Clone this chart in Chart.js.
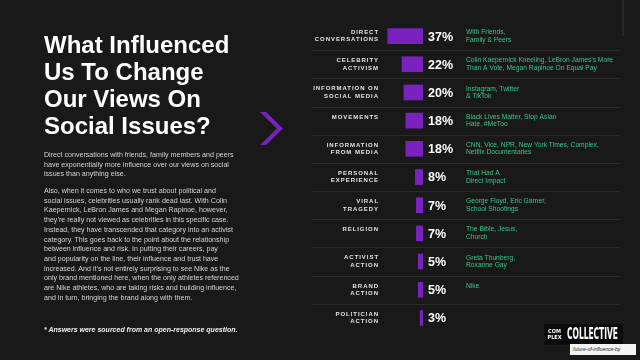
<!DOCTYPE html>
<html>
<head>
<meta charset="utf-8">
<script src="https://cdn.jsdelivr.net/npm/chart.js@4"></script>
<style>
  html,body{margin:0;padding:0;background:#191919;}
  body{width:640px;height:360px;position:relative;overflow:hidden;font-family:"Liberation Sans",Arial,sans-serif;}
  #c{position:absolute;left:0;top:0;}
  .title{position:absolute;left:44px;top:31px;color:#fff;font-weight:bold;font-size:24px;line-height:27px;white-space:nowrap;}
  .para{position:absolute;left:44px;color:#d4d4d4;font-size:7.1px;line-height:9.7px;white-space:nowrap;}
  .foot{position:absolute;left:44px;top:326px;color:#f0f0f0;font-size:7px;font-weight:bold;font-style:italic;white-space:nowrap;}
  .logo{position:absolute;left:544px;top:324px;width:79px;height:21px;background:#0b0b0b;}
  .cx{position:absolute;left:547px;top:327px;width:15px;height:15px;color:#fff;font-size:5.5px;line-height:6px;font-weight:bold;text-align:center;font-family:"Liberation Sans Narrow","DejaVu Sans Condensed",sans-serif;padding-top:1px;}
  .coll{position:absolute;left:567px;top:326px;color:#fff;font-weight:bold;font-size:15px;line-height:17px;font-family:"Liberation Sans Narrow","DejaVu Sans Condensed",sans-serif;transform-origin:0 0;white-space:nowrap;}
  .fut{position:absolute;left:570px;top:344px;width:66px;height:11px;background:#f4f4f4;color:#222;font-size:5px;line-height:11px;font-style:italic;padding-left:3px;box-sizing:border-box;}
</style>
</head>
<body>
<canvas id="c" width="640" height="360"></canvas>
<svg style="position:absolute;left:0;top:0" width="640" height="360">
  <polygon points="260,112 266,112 283,128.5 266,145 260,145 277,128.5" fill="#7a22c0"/>
  <line x1="623" y1="0" x2="623" y2="36" stroke="#3a3a3a" stroke-width="1"/>
</svg>
<div class="title">What Influenced<br>Us To Change<br>Our Views On<br>Social Issues?</div>
<div class="para" style="top:151px">Direct conversations with friends, family members and peers<br>have exponentially more influence over our views on social<br>issues than anything else.</div>
<div class="para" style="top:187px">Also, when it comes to who we trust about political and<br>social issues, celebrities usually rank dead last. With Colin<br>Kaepernick, LeBron James and Megan Rapinoe, however,<br>they’re really not viewed as celebrities in this specific case.<br>Instead, they have transcended that category into an activist<br>category. This goes back to the point about the relationship<br>between influence and risk. In putting their careers, pay<br>and popularity on the line, their influence and trust have<br>increased. And it’s not entirely surprising to see Nike as the<br>only brand mentioned here, when the only athletes referenced<br>are Nike athletes, who are taking risks and building influence,<br>and in turn, bringing the brand along with them.</div>
<div class="foot">* Answers were sourced from an open-response question.</div>
<div class="logo"></div>
<div class="cx">COM<br>PLEX</div>
<div class="coll" id="coll">COLLECTIVE</div>
<div class="fut">future-of-influence-by</div>
<script>
const categories = [
  ['DIRECT','CONVERSATIONS'],
  ['CELEBRITY','ACTIVISM'],
  ['INFORMATION ON','SOCIAL MEDIA'],
  ['MOVEMENTS',''],
  ['INFORMATION','FROM MEDIA'],
  ['PERSONAL','EXPERIENCE'],
  ['VIRAL','TRAGEDY'],
  ['RELIGION',''],
  ['ACTIVIST','ACTION'],
  ['BRAND','ACTION'],
  ['POLITICIAN','ACTION']
];
const values = [37, 22, 20, 18, 18, 8, 7, 7, 5, 5, 3];
const examples = [
  ['With Friends,','Family & Peers'],
  ['Colin Kaepernick Kneeling, LeBron James\u2019s More','Than A Vote, Megan Rapinoe On Equal Pay'],
  ['Instagram, Twitter','& TikTok'],
  ['Black Lives Matter, Stop Asian','Hate, #MeToo'],
  ['CNN, Vice, NPR, New York Times, Complex,','Netflix Documentaries'],
  ['That Had A','Direct Impact'],
  ['George Floyd, Eric Garner,','School Shootings'],
  ['The Bible, Jesus,','Church'],
  ['Greta Thunberg,','Roxanne Gay'],
  ['Nike',''],
  ['']
];

// fit logo word to its box width
(function(){
  const el = document.getElementById('coll');
  const w = el.getBoundingClientRect().width;
  el.style.transform = 'scaleX(' + (51 / w) + ')';
})();

const spacingPlugin = {
  id:'spacing',
  beforeDraw(chart){ chart.ctx.letterSpacing = '0.95px'; },
  beforeDatasetsDraw(chart){
    const ctx = chart.ctx;
    ctx.letterSpacing = '0px';
    const meta = chart.getDatasetMeta(0);
    ctx.save();
    ctx.strokeStyle = '#2a2a2a';
    ctx.lineWidth = 1;
    for (let i = 0; i < meta.data.length - 1; i++) {
      const y = Math.round((meta.data[i].y + meta.data[i+1].y) / 2) + 0.5;
      ctx.beginPath(); ctx.moveTo(312, y); ctx.lineTo(620, y); ctx.stroke();
    }
    ctx.restore();
  },
  afterDatasetsDraw(chart){
    const ctx = chart.ctx;
    const meta = chart.getDatasetMeta(0);
    ctx.save();
    ctx.letterSpacing = '0px';
    ctx.font = 'bold 12.5px "Liberation Sans", Arial, sans-serif';
    ctx.fillStyle = '#ffffff';
    ctx.textAlign = 'left';
    ctx.textBaseline = 'middle';
    meta.data.forEach((bar, i) => {
      ctx.fillText(values[i] + '%', bar.base + 5, bar.y + 1);
    });
    ctx.restore();
  },
  afterDraw(chart){ chart.ctx.letterSpacing = '0px'; }
};

new Chart(document.getElementById('c'), {
  type: 'bar',
  data: {
    labels: categories,
    datasets: [{ data: values, backgroundColor: '#7a22c0', barThickness: 15, xAxisID: 'x', yAxisID: 'y' }]
  },
  options: {
    indexAxis: 'y',
    responsive: false,
    animation: false,
    layout: { padding: { left: 280, right: 0, top: 22, bottom: 28 } },
    plugins: { legend: { display: false }, tooltip: { enabled: false } },
    scales: {
      x: { type: 'linear', reverse: true, min: 0, max: 42, display: false },
      y: {
        type: 'category', position: 'left', offset: true,
        grid: { display: false, drawTicks: false }, border: { display: false },
        ticks: { autoSkip: false, color: '#e4e4e4', padding: 4,
          font: { family: '"Liberation Sans", Arial, sans-serif', size: 6, weight: 'bold', lineHeight: 1.25 } },
        afterFit(s){ s.width = 103; s.paddingTop = 0; s.paddingBottom = 0; }
      },
      y2: {
        type: 'category', position: 'right', offset: true, labels: examples,
        grid: { display: false, drawTicks: false }, border: { display: false },
        ticks: { autoSkip: false, color: '#3cc48a', padding: 43, z: 1,
          font: { family: '"Liberation Sans", Arial, sans-serif', size: 6.7, lineHeight: 1.12 } },
        afterFit(s){ s.width = 217; s.paddingTop = 0; s.paddingBottom = 0; }
      }
    }
  },
  plugins: [spacingPlugin]
});
</script>
</body>
</html>
